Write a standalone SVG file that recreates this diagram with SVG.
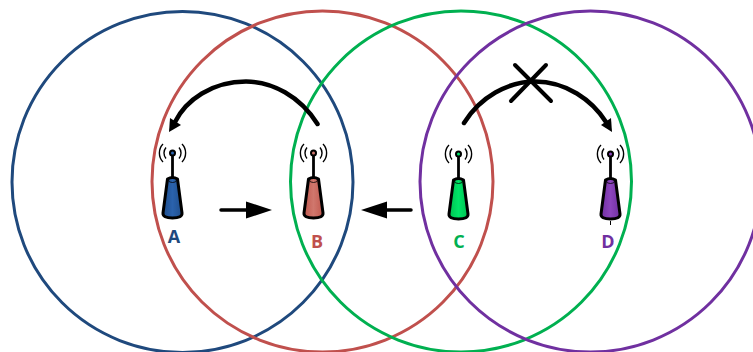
<svg xmlns="http://www.w3.org/2000/svg" width="753" height="352" viewBox="0 0 753 352">
<defs>
<linearGradient id="ga" x1="0" x2="1" y1="0" y2="0"><stop offset="0" stop-color="#1f4e8c"/><stop offset="0.5" stop-color="#2a62ad"/><stop offset="1" stop-color="#1f4e8c"/></linearGradient>
<linearGradient id="gb" x1="0" x2="1" y1="0" y2="0"><stop offset="0" stop-color="#c0594f"/><stop offset="0.5" stop-color="#d0776d"/><stop offset="1" stop-color="#c0594f"/></linearGradient>
<linearGradient id="gc" x1="0" x2="1" y1="0" y2="0"><stop offset="0" stop-color="#00c050"/><stop offset="0.5" stop-color="#00e468"/><stop offset="1" stop-color="#00c050"/></linearGradient>
<linearGradient id="gd" x1="0" x2="1" y1="0" y2="0"><stop offset="0" stop-color="#7030a0"/><stop offset="0.5" stop-color="#8c44bd"/><stop offset="1" stop-color="#7030a0"/></linearGradient>
<g id="tower">
<path class="wave" d="M-6.500,-5.500A8.500,8.500 0 0 0 -6.500,5.500M6.500,-5.500A8.500,8.500 0 0 1 6.500,5.500M-9.500,-9A13,13 0 0 0 -9.500,9M9.500,-9A13,13 0 0 1 9.500,9"/>
<line class="mast" x1="0" y1="0" x2="0" y2="25"/>
<circle cx="0" cy="0" r="3.500" fill="#000"/>
</g>
<path id="shell" class="body" d="M-5,-16.500Q0,-19.500 5,-16.500L9.500,17.500Q10,22.500 0,22.500Q-10,22.500 -9.500,17.500Z"/>
<ellipse id="cap" class="cap" cx="0" cy="-15.500" rx="4" ry="2.500"/>
</defs>
<style>
.ring{fill:none;stroke-width:3}
.wave{fill:none;stroke:#000;stroke-width:1.400}
.mast{stroke:#000;stroke-width:2.800}
.body{stroke:#000;stroke-width:3;stroke-linejoin:round}
.cap{fill:none;stroke:#000;stroke-width:0.800}
.lab{font-family:"Open Sans",sans-serif;font-weight:700;font-size:18px;text-anchor:middle}
.wire{fill:none;stroke:#000;stroke-width:4.500;stroke-linecap:round}
.x{stroke:#000;stroke-width:4;stroke-linecap:round}
</style>
<g id="rings">
<circle class="ring" cx="182.500" cy="182" r="170.500" stroke="#1f497d"/>
<circle class="ring" cx="322.500" cy="181.500" r="170.500" stroke="#c0504d"/>
<circle class="ring" cx="461" cy="181.500" r="170.500" stroke="#00b050"/>
<circle class="ring" cx="590.500" cy="181.500" r="170.500" stroke="#7030a0"/>
</g>
<g id="connectors">
<path class="wire" d="M317.500,124C300,96 272,81.500 246,81.500C212,81.500 186,100 175,122"/>
<polygon points="169,132 170,118 181,125"/>
<path class="wire" d="M464,123C480,97 508,81.500 535,81.500C566,81.500 592,100 606,122"/>
<polygon points="612,132 601,125 611,118"/>
<line class="x" x1="515" y1="65" x2="551" y2="101"/>
<line class="x" x1="546" y1="65" x2="511" y2="101"/>
<line x1="221" y1="210" x2="248" y2="210" stroke="#000" stroke-width="3.500" stroke-linecap="round"/>
<polygon points="246,201.500 272,210 246,218.500"/>
<line x1="411" y1="210" x2="385" y2="210" stroke="#000" stroke-width="3.500" stroke-linecap="round"/>
<polygon points="387,201.500 361,210 387,218.500"/>
</g>
<g id="node-a">
<use href="#tower" x="172.500" y="153"/>
<circle cx="172.500" cy="153" r="1.500" fill="#2a62ad"/>
<use href="#shell" x="172.500" y="195.500" fill="url(#ga)"/>
<use href="#cap" x="172.500" y="195.500"/>
<text class="lab" x="174" y="243" fill="#1f497d">A</text>
</g>
<g id="node-b">
<use href="#tower" x="313.500" y="153"/>
<circle cx="313.500" cy="153" r="1.500" fill="#d0776d"/>
<use href="#shell" x="313.500" y="195.500" fill="url(#gb)"/>
<use href="#cap" x="313.500" y="195.500"/>
<text class="lab" x="317" y="248" fill="#c0504d">B</text>
</g>
<g id="node-c">
<use href="#tower" x="458.500" y="154"/>
<circle cx="458.500" cy="154" r="1.500" fill="#00e468"/>
<use href="#shell" x="458.500" y="196.500" fill="url(#gc)"/>
<use href="#cap" x="458.500" y="196.500"/>
<text class="lab" x="459" y="248" fill="#00b050">C</text>
</g>
<g id="node-d">
<use href="#tower" x="610.500" y="154"/>
<circle cx="610.500" cy="154" r="1.500" fill="#8c44bd"/>
<use href="#shell" x="610.500" y="196.500" fill="url(#gd)"/>
<use href="#cap" x="610.500" y="196.500"/>
<line x1="610.500" y1="221" x2="610.500" y2="225" stroke="#000" stroke-width="1"/>
<text class="lab" x="608" y="248" fill="#7030a0">D</text>
</g>
</svg>
